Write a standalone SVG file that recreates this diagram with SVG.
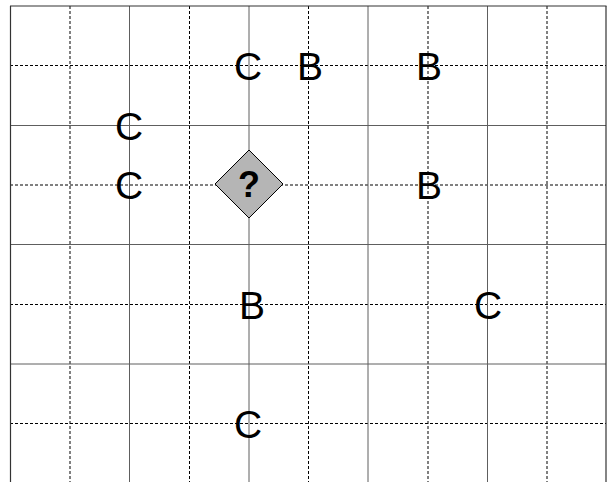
<svg xmlns="http://www.w3.org/2000/svg" width="607" height="482" viewBox="0 0 607 482">
<style>
.solid{stroke:#5e5e5e;stroke-width:1;fill:none}
.border{stroke:#333;stroke-width:1.2;fill:none}
.dash{stroke:#000;stroke-width:1;stroke-dasharray:3,2;fill:none}
.lbl{font-family:"Liberation Sans",Arial,sans-serif;font-size:39px;fill:#000;text-anchor:middle}
.q{font-family:"Liberation Sans",Arial,sans-serif;font-size:36px;font-weight:bold;fill:#000;text-anchor:middle}
</style>
<rect width="607" height="482" fill="#fff"/>
<g id="connectors">
<g id="grid-dashed">
<line class="dash" x1="10" y1="65.5" x2="606" y2="65.5"/>
<line class="dash" x1="10" y1="185" x2="606" y2="185"/>
<line class="dash" x1="10" y1="304.5" x2="606" y2="304.5"/>
<line class="dash" x1="10" y1="423.5" x2="606" y2="423.5"/>
<line class="dash" x1="70" y1="6" x2="70" y2="482"/>
<line class="dash" x1="189.5" y1="6" x2="189.5" y2="482"/>
<line class="dash" x1="308.5" y1="6" x2="308.5" y2="482"/>
<line class="dash" x1="428" y1="6" x2="428" y2="482"/>
<line class="dash" x1="547" y1="6" x2="547" y2="482"/>
</g>
<g id="grid-solid">
<line class="solid" x1="10" y1="125.5" x2="606" y2="125.5"/>
<line class="solid" x1="10" y1="244.5" x2="606" y2="244.5"/>
<line class="solid" x1="10" y1="364" x2="606" y2="364"/>
<line class="solid" x1="129.5" y1="6" x2="129.5" y2="482"/>
<line class="solid" x1="249" y1="6" x2="249" y2="482"/>
<line class="solid" x1="368" y1="6" x2="368" y2="482"/>
<line class="solid" x1="487.5" y1="6" x2="487.5" y2="482"/>
</g>
<g id="border">
<line class="border" x1="10" y1="6" x2="606.5" y2="6"/>
<line class="border" x1="10.5" y1="6" x2="10.5" y2="482"/>
<line class="border" x1="606" y1="6" x2="606" y2="482"/>
</g>
</g>
<g id="node-q">
<polygon points="249,150 283,184 249,218 215,184" fill="#b5b5b5" stroke="#000" stroke-width="1"/>
<text class="q" x="249" y="197">?</text>
</g>
<g id="node-c1"><text class="lbl" x="248" y="80">C</text></g>
<g id="node-b1"><text class="lbl" x="310" y="80">B</text></g>
<g id="node-b2"><text class="lbl" x="429" y="80">B</text></g>
<g id="node-c2"><text class="lbl" x="129" y="139.5">C</text></g>
<g id="node-c3"><text class="lbl" x="129" y="199">C</text></g>
<g id="node-b3"><text class="lbl" x="429" y="199">B</text></g>
<g id="node-b4"><text class="lbl" x="252" y="318.5">B</text></g>
<g id="node-c4"><text class="lbl" x="488" y="318.5">C</text></g>
<g id="node-c5"><text class="lbl" x="248" y="438">C</text></g>
</svg>
